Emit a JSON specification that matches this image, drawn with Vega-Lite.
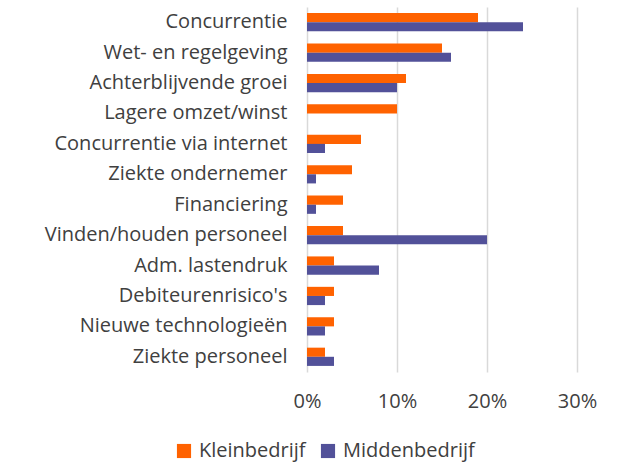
{
  "$schema": "https://vega.github.io/schema/vega-lite/v6.json",
  "autosize": {"type": "none"},
  "width": 270,
  "height": 365,
  "padding": {"left": 307, "top": 7, "right": 44, "bottom": 90},
  "background": "white",
  "config": {
    "view": {"stroke": null},
    "font": "Open Sans",
    "axis": {"labelColor": "#404040", "labelFont": "Open Sans", "labelFontSize": 20, "labelLimit": 320},
    "legend": {"labelColor": "#404040", "labelFont": "Open Sans", "labelFontSize": 20, "labelLimit": 300}
  },
  "data": {
    "values": [
      {"categorie": "Concurrentie", "reeks": "Kleinbedrijf", "waarde": 19},
      {"categorie": "Concurrentie", "reeks": "Middenbedrijf", "waarde": 24},
      {"categorie": "Wet- en regelgeving", "reeks": "Kleinbedrijf", "waarde": 15},
      {"categorie": "Wet- en regelgeving", "reeks": "Middenbedrijf", "waarde": 16},
      {"categorie": "Achterblijvende groei", "reeks": "Kleinbedrijf", "waarde": 11},
      {"categorie": "Achterblijvende groei", "reeks": "Middenbedrijf", "waarde": 10},
      {"categorie": "Lagere omzet/winst", "reeks": "Kleinbedrijf", "waarde": 10},
      {"categorie": "Lagere omzet/winst", "reeks": "Middenbedrijf", "waarde": 0},
      {"categorie": "Concurrentie via internet", "reeks": "Kleinbedrijf", "waarde": 6},
      {"categorie": "Concurrentie via internet", "reeks": "Middenbedrijf", "waarde": 2},
      {"categorie": "Ziekte ondernemer", "reeks": "Kleinbedrijf", "waarde": 5},
      {"categorie": "Ziekte ondernemer", "reeks": "Middenbedrijf", "waarde": 1},
      {"categorie": "Financiering", "reeks": "Kleinbedrijf", "waarde": 4},
      {"categorie": "Financiering", "reeks": "Middenbedrijf", "waarde": 1},
      {"categorie": "Vinden/houden personeel", "reeks": "Kleinbedrijf", "waarde": 4},
      {"categorie": "Vinden/houden personeel", "reeks": "Middenbedrijf", "waarde": 20},
      {"categorie": "Adm. lastendruk", "reeks": "Kleinbedrijf", "waarde": 3},
      {"categorie": "Adm. lastendruk", "reeks": "Middenbedrijf", "waarde": 8},
      {"categorie": "Debiteurenrisico's", "reeks": "Kleinbedrijf", "waarde": 3},
      {"categorie": "Debiteurenrisico's", "reeks": "Middenbedrijf", "waarde": 2},
      {"categorie": "Nieuwe technologieën", "reeks": "Kleinbedrijf", "waarde": 3},
      {"categorie": "Nieuwe technologieën", "reeks": "Middenbedrijf", "waarde": 2},
      {"categorie": "Ziekte personeel", "reeks": "Kleinbedrijf", "waarde": 2},
      {"categorie": "Ziekte personeel", "reeks": "Middenbedrijf", "waarde": 3}
    ]
  },
  "mark": {"type": "bar"},
  "encoding": {
    "y": {
      "field": "categorie", "type": "nominal", "sort": null, "title": null,
      "scale": {"paddingInner": 0.4, "paddingOuter": 0.2},
      "axis": {"domain": false, "ticks": false, "labelPadding": 20, "grid": false}
    },
    "yOffset": {"field": "reeks", "type": "nominal", "sort": ["Kleinbedrijf", "Middenbedrijf"]},
    "x": {
      "field": "waarde", "type": "quantitative", "title": null,
      "scale": {"domain": [0, 30]},
      "axis": {"values": [0, 10, 20, 30], "labelExpr": "datum.value + '%'", "domain": false, "ticks": false, "grid": true, "gridColor": "#d9d9d9", "gridWidth": 1.5, "labelPadding": 19, "labelFlush": false}
    },
    "color": {
      "field": "reeks", "type": "nominal",
      "scale": {"domain": ["Kleinbedrijf", "Middenbedrijf"], "range": ["#FF6200", "#525199"]},
      "legend": {"title": null, "orient": "none", "legendX": -133, "legendY": 434, "direction": "horizontal", "symbolType": "square", "symbolSize": 200, "columnPadding": 12, "labelOffset": 5}
    }
  }
}
